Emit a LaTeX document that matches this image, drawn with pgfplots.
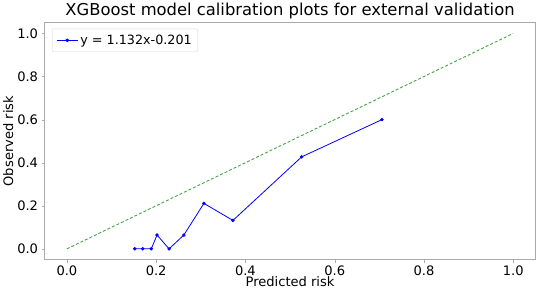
\documentclass[border=0pt]{standalone}
\usepackage{pgfplots}
\pgfplotsset{compat=1.18}
\usepackage{fontspec}
\setmainfont{DejaVu Sans}
\definecolor{linegreen}{RGB}{70,165,70}
\definecolor{framegray}{RGB}{170,170,170}
\begin{document}
\begin{tikzpicture}[x=1bp,y=1bp]
\begin{axis}[
  scale only axis,
  width=489bp, height=236bp,
  xmin=-0.05, xmax=1.05, ymin=-0.05, ymax=1.05,
  xtick={0,0.2,0.4,0.6,0.8,1.0},
  ytick={0,0.2,0.4,0.6,0.8,1.0},
  xticklabels={0.0,0.2,0.4,0.6,0.8,1.0},
  yticklabels={0.0,0.2,0.4,0.6,0.8,1.0},
  tick label style={font=\fontsize{13bp}{15bp}\selectfont},
  label style={font=\fontsize{13bp}{15bp}\selectfont},
  title style={font=\fontsize{16.3bp}{18bp}\selectfont, yshift=-6bp},
  title={XGBoost model calibration plots for external validation},
  xlabel={Predicted risk}, ylabel={Observed risk},
  xlabel style={yshift=6bp}, ylabel style={yshift=-3bp},
  axis line style={framegray, line width=1pt},
  tick style={framegray},
  tick align=outside, major tick length=3bp,
  xtick pos=bottom, ytick pos=left,
  legend pos=north west,
  legend style={draw=black!15, rounded corners=2bp, font=\fontsize{12.7bp}{14bp}\selectfont, inner sep=4bp, at={(0.015,0.975)}},
  legend image post style={xscale=1.25},
  legend cell align=left,
]
\addplot[blue, line width=0.8pt, mark=*, mark size=1.3pt] coordinates {
 (0.152,0) (0.170,0) (0.189,0) (0.202,0.064) (0.229,0) (0.262,0.064)
 (0.307,0.211) (0.372,0.132) (0.526,0.427) (0.706,0.600)
};
\addlegendentry{y = 1.132x-0.201}
\addplot[linegreen, line width=0.9pt, densely dashed, forget plot] coordinates {(0,0) (1,1)};
\end{axis}
\end{tikzpicture}
\end{document}
